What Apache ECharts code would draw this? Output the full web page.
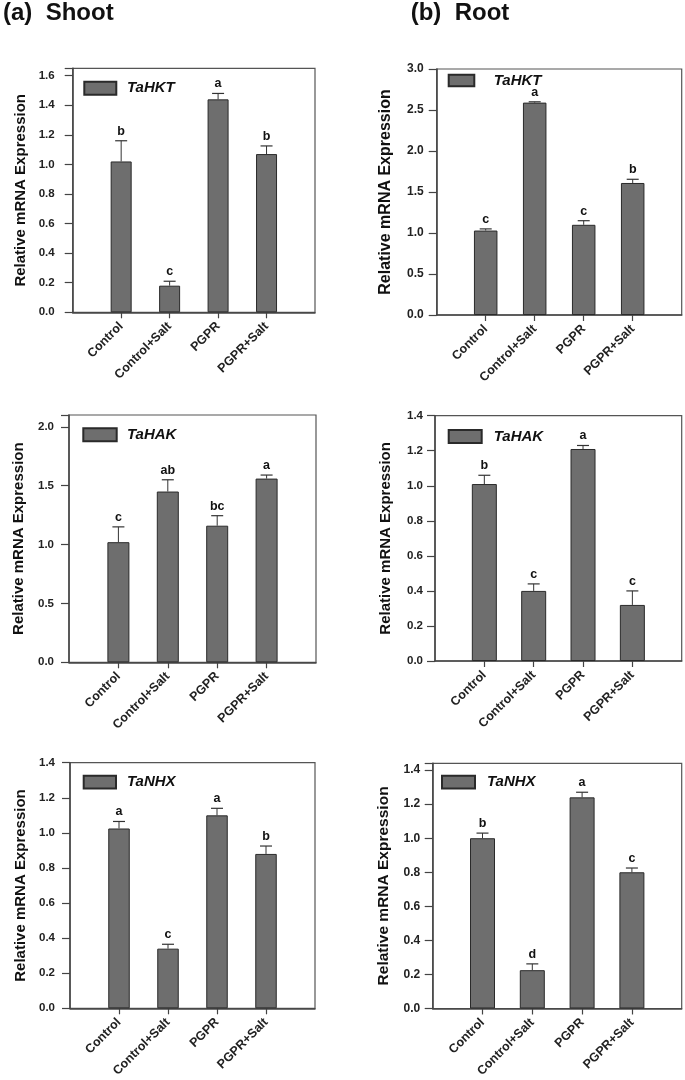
<!DOCTYPE html>
<html>
<head>
<meta charset="utf-8">
<style>
  html, body { margin: 0; padding: 0; background: #fff; }
  #chart { width: 685px; height: 1080px; }
</style>
<script src="https://cdn.jsdelivr.net/npm/echarts@6/dist/echarts.min.js"></script>
</head>
<body>
<div id="chart"></div>
<script>
// ---------- DATA ----------
const categories = ['Control', 'Control+Salt', 'PGPR', 'PGPR+Salt'];
const panelTitles = ['(a)  Shoot', '(b)  Root'];
const yAxisTitle = 'Relative mRNA Expression';

const geneNames = ['TaHKT', 'TaHKT', 'TaHAK', 'TaHAK', 'TaNHX', 'TaNHX'];

const shootHKT        = [1.02, 0.18, 1.44, 1.07];
const shootHKTErr     = [0.14, 0.03, 0.04, 0.055];
const shootHKTLetters = ['b', 'c', 'a', 'b'];

const rootHKT         = [1.03, 2.59, 1.10, 1.61];
const rootHKTErr      = [0.02, 0.01, 0.05, 0.045];
const rootHKTLetters  = ['c', 'a', 'c', 'b'];

const shootHAK        = [1.02, 1.45, 1.16, 1.56];
const shootHAKErr     = [0.13, 0.10, 0.085, 0.03];
const shootHAKLetters = ['c', 'ab', 'bc', 'a'];

const rootHAK         = [1.01, 0.40, 1.21, 0.32];
const rootHAKErr      = [0.05, 0.04, 0.02, 0.08];
const rootHAKLetters  = ['b', 'c', 'a', 'c'];

const shootNHX        = [1.025, 0.34, 1.10, 0.88];
const shootNHXErr     = [0.04, 0.025, 0.04, 0.045];
const shootNHXLetters = ['a', 'c', 'a', 'b'];

const rootNHX         = [1.00, 0.225, 1.24, 0.80];
const rootNHXErr      = [0.03, 0.037, 0.03, 0.025];
const rootNHXLetters  = ['b', 'd', 'a', 'c'];

// y axis scales (max of frame, tick step)
const yMax  = [1.65, 3.0, 2.1, 1.4, 1.4, 1.44];
const yStep = [0.2, 0.5, 0.5, 0.2, 0.2, 0.2];

// ---------- LAYOUT / STYLE ----------
const FONT = '"Liberation Sans", Arial, Helvetica, sans-serif';
const values  = [shootHKT, rootHKT, shootHAK, rootHAK, shootNHX, rootNHX];
const errs    = [shootHKTErr, rootHKTErr, shootHAKErr, rootHAKErr, shootNHXErr, rootNHXErr];
const letters = [shootHKTLetters, rootHKTLetters, shootHAKLetters, rootHAKLetters, shootNHXLetters, rootNHXLetters];

const grids = [
  { left: 72.7,  top: 68.3,  width: 242.3, height: 244 },
  { left: 436.7, top: 69,    width: 245,   height: 246 },
  { left: 69,    top: 415,   width: 247,   height: 247.3 },
  { left: 435,   top: 415.7, width: 246.7, height: 245.3 },
  { left: 70,    top: 762.7, width: 245,   height: 245.6 },
  { left: 432.7, top: 763.3, width: 249,   height: 247.7 }
];
const barWidths   = [21, 23.5, 22, 25, 21.5, 25];
const tickFont    = [11.5, 12, 11.5, 11.5, 11.5, 12];
const xFont       = [12.5, 12.5, 12.5, 12.5, 12.5, 12.5];
const labelMargin = [18, 13, 15, 12, 15, 12.5];
const nameFont    = [15, 16, 15, 15, 15, 15.5];
const nameGap     = [44, 43, 43, 42, 42, 41];
const legendPos = [
  { left: 83.3,  top: 82.7, w: 32,   h: 13,   gap: 10.7 },
  { left: 447.7, top: 75,   w: 25.6, h: 11.7, gap: 19.4 },
  { left: 82.3,  top: 429.3, w: 33.4, h: 13,  gap: 10.3 },
  { left: 447.7, top: 431,  w: 33,   h: 13,   gap: 12 },
  { left: 82.7,  top: 776.7, w: 32.3, h: 12.7, gap: 11 },
  { left: 441,   top: 776.7, w: 33,  h: 12.7, gap: 12 }
];

const xCats = [''].concat(categories, ['']);

const option = {
  animation: false,
  backgroundColor: '#ffffff',
  title: [
    { text: panelTitles[0], left: 3, top: 1, padding: 0,
      textStyle: { fontFamily: FONT, fontSize: 24, fontWeight: 'bold', color: '#111' } },
    { text: panelTitles[1], left: 410.7, top: 1, padding: 0,
      textStyle: { fontFamily: FONT, fontSize: 24, fontWeight: 'bold', color: '#111' } }
  ],
  grid: [], xAxis: [], yAxis: [], legend: [], series: []
};

grids.forEach((g, i) => {
  option.grid.push(Object.assign({
    show: true, borderColor: '#555', borderWidth: 1.2, backgroundColor: 'transparent'
  }, g));

  option.xAxis.push({
    gridIndex: i, type: 'category', data: xCats, boundaryGap: false,
    axisLine: { show: true, onZero: false, lineStyle: { color: '#444', width: 1.5 } },
    axisTick: { show: true, length: 6, interval: (idx) => idx > 0 && idx < xCats.length - 1,
                lineStyle: { color: '#444', width: 1.2 } },
    axisLabel: { interval: 0, rotate: 45, margin: 12, fontFamily: FONT, fontSize: xFont[i],
                 fontWeight: 'bold', color: '#222' },
    splitLine: { show: false }
  });

  const step = yStep[i];
  option.yAxis.push({
    gridIndex: i, type: 'value', min: 0, max: yMax[i], interval: step,
    name: yAxisTitle, nameLocation: 'middle', nameGap: nameGap[i],
    nameTextStyle: { fontFamily: FONT, fontSize: nameFont[i], fontWeight: 'bold', color: '#111' },
    axisLine: { show: true, lineStyle: { color: '#444', width: 1.5 } },
    axisTick: { show: true, length: 8, lineStyle: { color: '#444', width: 1.2 } },
    axisLabel: {
      margin: labelMargin[i], fontFamily: FONT, fontSize: tickFont[i], fontWeight: 'bold', color: '#222',
      formatter: (v) => {
        const r = v / step;
        return Math.abs(r - Math.round(r)) < 1e-6 ? v.toFixed(1) : '';
      }
    },
    splitLine: { show: false }
  });

  const lp = legendPos[i];
  option.legend.push({
    data: [geneNames[i]], left: lp.left, top: lp.top - 2, padding: 0,
    itemWidth: lp.w, itemHeight: lp.h, icon: 'rect', selectedMode: false,
    textStyle: { fontFamily: FONT, fontSize: 15, fontWeight: 'bold', fontStyle: 'italic',
                 color: '#111', padding: [0, 0, 0, lp.gap - 5] }
  });

  option.series.push({
    type: 'bar', name: geneNames[i], xAxisIndex: i, yAxisIndex: i,
    data: [null].concat(values[i], [null]),
    barWidth: barWidths[i], silent: true, z: 2,
    itemStyle: { color: '#6e6e6e', borderColor: '#2a2a2a', borderWidth: 1 }
  });

  const lets = letters[i];
  option.series.push({
    type: 'custom', xAxisIndex: i, yAxisIndex: i, silent: true, z: 3,
    data: values[i].map((v, k) => [k + 1, v, errs[i][k]]),
    encode: { x: 0, y: 1 },
    renderItem: (params, api) => {
      const idx = api.value(0), m = api.value(1), e = api.value(2);
      const base = api.coord([idx, m]);
      const top = api.coord([idx, m + e]);
      return {
        type: 'group',
        children: [
          { type: 'line', shape: { x1: base[0], y1: base[1], x2: top[0], y2: top[1] },
            style: { stroke: '#333', lineWidth: 1 } },
          { type: 'line', shape: { x1: top[0] - 6, y1: top[1], x2: top[0] + 6, y2: top[1] },
            style: { stroke: '#333', lineWidth: 1.2 } },
          { type: 'text', x: top[0], y: top[1] - 3,
            style: { text: lets[params.dataIndex], font: 'bold 12.5px ' + FONT,
                     fill: '#111', align: 'center', verticalAlign: 'bottom' } }
        ]
      };
    }
  });
});

const chart = echarts.init(document.getElementById('chart'), null, { renderer: 'canvas' });
chart.setOption(option);
</script>
</body>
</html>
